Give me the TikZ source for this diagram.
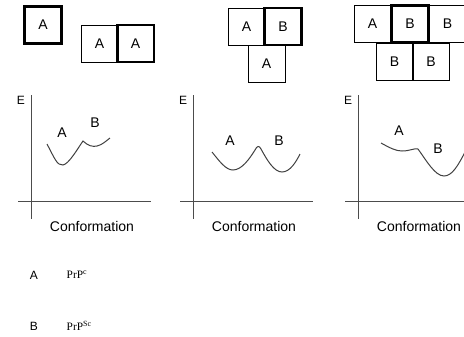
\documentclass[tikz,border=0pt]{standalone}
\usepackage{fontspec}
\setsansfont{Liberation Sans}
\newfontfamily\legendfont{Liberation Serif}

\begin{document}
\begin{tikzpicture}[x=0.75pt, y=-0.75pt, font=\sffamily\fontsize{10.5}{12}\selectfont,
        unit/.style={draw, line width=0.75pt, minimum size=27.75pt, inner sep=0pt, outer sep=0pt},
        seed/.style={unit, line width=1.6pt},
        axis/.style={draw=black!70, line width=0.75pt},
        energy/.style={draw=black!75, line width=0.75pt},
        small/.style={font=\sffamily\fontsize{9}{10}\selectfont},
        prp/.style={anchor=west, font=\legendfont\fontsize{8.5}{10}\selectfont}]
        \useasboundingbox (0,0) rectangle (464,336);
        \clip (0,0) rectangle (464,336);
        % aggregates: thin boxes first, seed boxes on top
        \foreach \name/\x/\y/\lab in {a2/99.5/43.5/A, b1/246.5/26.5/A, b3/266.5/63.5/A, c1/372.5/24/A, c3/447.5/24/B, c4/394.5/61.5/B, c5/431/61.5/B}
            \node[unit] (\name) at (\x,\y) {\lab};
        \foreach \name/\x/\y/\lab in {a1/43/25/A, a3/135.5/43.5/A, b2/283/26.5/B, c2/410/24/B}
            \node[seed] (\name) at (\x,\y) {\lab};
        % energy axes
        \foreach \o in {31,193,358} {
            \draw[axis] (\o,95) -- (\o,219);
            \draw[axis] (\o-13,201) -- (\o+120,201);
            \node[small] (e\o) at (\o-10,100) {E};
            \node (conf\o) at (\o+61,226) {Conformation};
        }
        % landscapes
        \draw[energy] (47,144) .. controls (54,157) and (57,166) .. (63,165) .. controls (69,164) and (78,148) .. (83,141) .. controls (88,146) and (93,147) .. (97,146) .. controls (102,145) and (106,141) .. (110,138);
        \draw[energy] (212,152) .. controls (220,162) and (226,170) .. (233,170) .. controls (242,170) and (250,158) .. (255,150) .. controls (257,146) and (259,145) .. (261,149) .. controls (267,160) and (274,172) .. (282,172) .. controls (290,172) and (296,162) .. (300,154);
        \draw[energy] (381,143) .. controls (390,148) and (396,151) .. (402,151) .. controls (410,151) and (414,148) .. (418,149) .. controls (426,160) and (435,176) .. (444,176) .. controls (452,176) and (458,166) .. (466,150);
        \node (pa1) at (62,133) {A};
        \node (pb1) at (95,123) {B};
        \node (pa2) at (230,141) {A};
        \node (pb2) at (279,141) {B};
        \node (pa3) at (399,131) {A};
        \node (pb3) at (438,149) {B};
        % legend
        \node[small] (keyA) at (34,275) {A};
        \node[prp] (prpc) at (62,275) {PrP\textsuperscript{c}};
        \node[small] (keyB) at (34,326) {B};
        \node[prp] (prpsc) at (62,326) {PrP\textsuperscript{Sc}};
\end{tikzpicture}
\end{document}
